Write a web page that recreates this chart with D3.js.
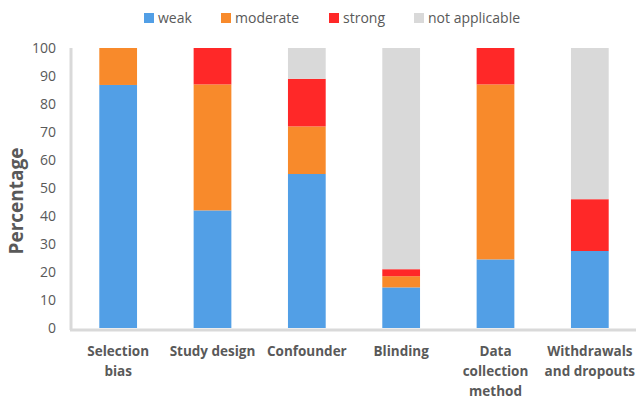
<!DOCTYPE html>
<html><head><meta charset="utf-8">
<script src="https://cdn.jsdelivr.net/npm/d3@7"></script>
<style>body{margin:0;background:#fff}svg{display:block}</style>
</head><body><svg id="c" width="636" height="402"></svg>
<script>
const categories = ["Selection bias","Study design","Confounder","Blinding","Data collection method","Withdrawals and dropouts"];
const categoryLines = [["Selection","bias"],["Study design"],["Confounder"],["Blinding"],["Data","collection","method"],["Withdrawals","and dropouts"]];
const seriesNames = ["weak","moderate","strong","not applicable"];
const weak = [86.8, 42, 55, 14.5, 24.5, 27.5];
const moderate = [13.2, 45, 17, 4, 62.5, 0];
const strong = [0, 13, 17, 2.5, 13, 18.5];
const notApplicable = [0, 0, 11, 79, 0, 54];
const yTicks = [0,10,20,30,40,50,60,70,80,90,100];
const colors = ["#529FE6","#F88A2B","#FF2828","#D9D9D9"];

const svg = d3.select("#c");
const font = "'Open Sans', 'Liberation Sans', sans-serif";
const x = d3.scaleBand().domain(categories).range([71, 637]).paddingInner(0.6).paddingOuter(0.3);
const y = d3.scaleLinear().domain([0,100]).range([328, 48]);

const rows = categories.map((c,i)=>({cat:c, weak:weak[i], moderate:moderate[i], strong:strong[i], "not applicable":notApplicable[i]}));
const stack = d3.stack().keys(seriesNames)(rows);
const color = d3.scaleOrdinal().domain(seriesNames).range(colors);

svg.append("g").selectAll("g").data(stack).join("g")
  .attr("fill", d=>color(d.key))
  .selectAll("rect").data(d=>d).join("rect")
  .attr("x", d=>x(d.data.cat))
  .attr("width", x.bandwidth())
  .attr("y", d=>y(d[1]))
  .attr("height", d=>Math.max(0, y(d[0])-y(d[1])));

// axes lines
svg.append("line").attr("x1",71).attr("x2",71).attr("y1",y(100)).attr("y2",y(0)+2)
  .attr("stroke","#D9D9D9").attr("stroke-width",3);
svg.append("line").attr("x1",70).attr("x2",636).attr("y1",y(0)+2).attr("y2",y(0)+2)
  .attr("stroke","#D9D9D9").attr("stroke-width",3);

// y ticks
const yAxis = d3.axisLeft(y).tickValues(yTicks).tickSize(0).tickPadding(0);
const ga = svg.append("g").attr("transform","translate(56,0)").call(yAxis);
ga.select(".domain").remove();
ga.selectAll("text").attr("font-family",font).attr("font-size",14).attr("fill","#595959");

// x labels
const xl = svg.append("g").selectAll("text").data(categories).join("text")
  .attr("text-anchor","middle")
  .attr("font-family",font).attr("font-size",13.5).attr("font-weight","bold").attr("fill","#595959")
  .attr("transform", d=>`translate(${x(d)+x.bandwidth()/2},356)`);
xl.each(function(d,i){
  const t = d3.select(this);
  categoryLines[i].forEach((ln,j)=>t.append("tspan").attr("x",0).attr("y",j*20).text(ln));
});

// y title
svg.append("text").attr("transform","translate(23,201) rotate(-90)")
  .attr("text-anchor","middle").attr("font-family",font).attr("font-size",19)
  .attr("font-weight","bold").attr("fill","#595959").text("Percentage");

// legend
const legendX = [144, 221, 329, 414];
const lg = svg.append("g").selectAll("g").data(seriesNames).join("g")
  .attr("transform",(d,i)=>`translate(${legendX[i]},13)`);
lg.append("rect").attr("width",10).attr("height",10).attr("fill",d=>color(d));
lg.append("text").attr("x",14).attr("y",10).attr("font-family",font).attr("font-size",14)
  .attr("fill","#595959").text(d=>d);
</script></body></html>
